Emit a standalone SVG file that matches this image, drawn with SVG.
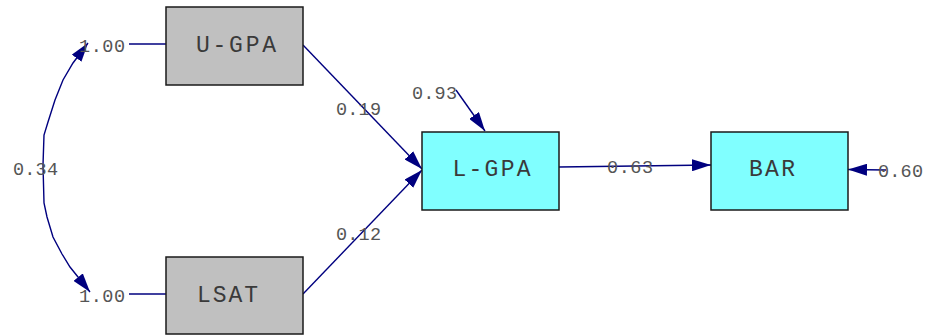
<svg xmlns="http://www.w3.org/2000/svg" width="927" height="335" viewBox="0 0 927 335">
<defs>
<marker id="ah" markerUnits="userSpaceOnUse" markerWidth="20" markerHeight="12" refX="19" refY="6" orient="auto-start-reverse" viewBox="0 0 20 12">
<path d="M0,0 L19,6 L0,12 Z" fill="#00007f"/>
</marker>
<style>
.obs{fill:#c0c0c0;stroke:#1a1a1a;stroke-width:1.5}
.lat{fill:#80ffff;stroke:#1a1a1a;stroke-width:1.5}
.lbl{font-family:"Liberation Mono","DejaVu Sans Mono",monospace;font-size:23px;fill:#3a3a3a;text-anchor:middle}
.num{font-family:"Liberation Mono","DejaVu Sans Mono",monospace;font-size:18.5px;fill:#555555}
.c{fill:none;stroke:#00007f;stroke-width:1.4}
.a{marker-end:url(#ah)}
</style>
</defs>
<g id="connectors">
<path class="c" d="M129,44 L166,44"/>
<path class="c" d="M129,294 L166,294"/>
<path class="c a" d="M303,45 L422,169"/>
<path class="c a" d="M303,294 L422,170"/>
<path class="c a" d="M559,167 L711,165"/>
<path class="c a" d="M456,90 L485,131"/>
<path class="c a" d="M886,170 L848,169.5"/>
<path class="c" d="M88,43 L73,63 L63,80 L55,100 L48,122 L44,135 L43,165 L44,203 L47,217 L53,237 L62,254 L70,267 L90,292" marker-start="url(#ah)" marker-end="url(#ah)"/>
</g>
<g id="labels">
<text class="num" x="79" y="52" textLength="46" lengthAdjust="spacing">1.00</text>
<text class="num" x="79" y="302" textLength="46" lengthAdjust="spacing">1.00</text>
<text class="num" x="13" y="175" textLength="45" lengthAdjust="spacing">0.34</text>
<text class="num" x="336" y="115" textLength="45" lengthAdjust="spacing">0.19</text>
<text class="num" x="336" y="240" textLength="45" lengthAdjust="spacing">0.12</text>
<text class="num" x="412" y="99" textLength="45" lengthAdjust="spacing">0.93</text>
<text class="num" x="607" y="173" textLength="46" lengthAdjust="spacing">0.63</text>
<text class="num" x="878" y="177" textLength="45" lengthAdjust="spacing">0.60</text>
</g>
<g id="U-GPA">
<rect class="obs" x="166" y="7" width="137" height="78"/>
<text class="lbl" x="236" y="52" textLength="80" lengthAdjust="spacing">U-GPA</text>
</g>
<g id="LSAT">
<rect class="obs" x="166" y="257" width="137" height="77"/>
<text class="lbl" x="227.5" y="302" textLength="61" lengthAdjust="spacing">LSAT</text>
</g>
<g id="L-GPA">
<rect class="lat" x="422" y="132" width="137" height="78"/>
<text class="lbl" x="491.5" y="176" textLength="78" lengthAdjust="spacing">L-GPA</text>
</g>
<g id="BAR">
<rect class="lat" x="711" y="132" width="137" height="78"/>
<text class="lbl" x="772" y="176" textLength="46" lengthAdjust="spacing">BAR</text>
</g>
</svg>
